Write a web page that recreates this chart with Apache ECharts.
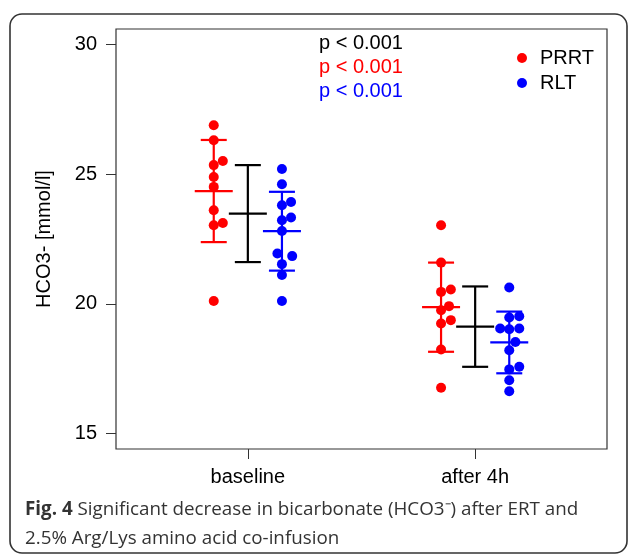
<!DOCTYPE html>
<html>
<head>
<meta charset="utf-8">
<script src="https://cdn.jsdelivr.net/npm/echarts@6/dist/echarts.min.js"></script>
<style>
html,body{margin:0;padding:0;background:#fff;}
#chart{width:629px;height:554px;}
</style>
</head>
<body>
<div id="chart"></div>
<script>
// ---- data ----
var categories = ['baseline', 'after 4h'];
var yTicks = [15, 20, 25, 30];
var seriesNames = ['PRRT', 'RLT'];

// individual values (mmol/l) and horizontal jitter per point
var prrtBaseline = [26.89, 26.31, 25.51, 25.35, 24.89, 24.51, 23.61, 23.03, 23.12, 20.11];
var prrtBaselineJitter = [0, 0, 0.04, 0, 0, 0, 0, 0, 0.04, 0];
var prrtAfter = [23.03, 21.59, 20.46, 20.55, 19.91, 19.75, 19.37, 19.24, 18.24, 16.76];
var prrtAfterJitter = [0, 0, 0, 0.043, 0.035, 0, 0.043, 0, 0, 0];

var rltBaseline = [25.20, 24.61, 23.93, 23.80, 23.33, 23.22, 22.81, 21.94, 21.84, 21.53, 21.11, 20.11];
var rltBaselineJitter = [0, 0, 0.04, 0, 0.04, 0, 0, -0.02, 0.045, 0, 0, 0];
var rltAfter = [20.63, 19.47, 19.52, 19.05, 19.02, 19.05, 18.53, 18.21, 17.57, 17.47, 17.05, 16.63];
var rltAfterJitter = [0, 0, 0.044, -0.04, 0, 0.044, 0.027, 0, 0.044, 0, 0, 0];

// summary bars (mean +/- SD) per time point
var prrtMean = [24.35, 19.87];
var prrtSd = [1.97, 1.72];
var allMean = [23.48, 19.12];
var allSd = [1.87, 1.55];
var rltMean = [22.80, 18.51];
var rltSd = [1.52, 1.19];

var pLabels = ['p < 0.001', 'p < 0.001', 'p < 0.001'];
var captionBold = 'Fig. 4';
var captionLine1 = ' Significant decrease in bicarbonate (HCO3\u207B) after ERT and';
var captionLine2 = '2.5% Arg/Lys amino acid co-infusion';

// ---- build ----
var groupOffset = { PRRT: -0.15, ALL: 0, RLT: 0.15 };
function pts(vals, jit, catIdx, off) {
  return vals.map(function (v, i) { return [catIdx + 1 + off + jit[i], v]; });
}
var prrtPoints = pts(prrtBaseline, prrtBaselineJitter, 0, groupOffset.PRRT)
  .concat(pts(prrtAfter, prrtAfterJitter, 1, groupOffset.PRRT));
var rltPoints = pts(rltBaseline, rltBaselineJitter, 0, groupOffset.RLT)
  .concat(pts(rltAfter, rltAfterJitter, 1, groupOffset.RLT));

function barData(mean, sd, off) {
  return mean.map(function (m, i) { return [i + 1 + off, m, m - sd[i], m + sd[i]]; });
}

function errRender(color) {
  return function (params, api) {
    var x = api.value(0);
    var c = api.coord([x, api.value(1)]);
    var lo = api.coord([x, api.value(2)]);
    var hi = api.coord([x, api.value(3)]);
    var st = { stroke: color, lineWidth: 2.2, fill: null };
    var cap = 13, mid = 19;
    return {
      type: 'group',
      children: [
        { type: 'line', shape: { x1: c[0], y1: hi[1], x2: c[0], y2: lo[1] }, style: st },
        { type: 'line', shape: { x1: c[0] - cap, y1: hi[1], x2: c[0] + cap, y2: hi[1] }, style: st },
        { type: 'line', shape: { x1: c[0] - cap, y1: lo[1], x2: c[0] + cap, y2: lo[1] }, style: st },
        { type: 'line', shape: { x1: c[0] - mid, y1: c[1], x2: c[0] + mid, y2: c[1] }, style: st }
      ]
    };
  };
}

var FONT = '"Liberation Sans", Arial, sans-serif';
var chart = echarts.init(document.getElementById('chart'), null, { renderer: 'canvas' });
chart.setOption({
  animation: false,
  backgroundColor: '#fff',
  grid: {
    left: 116, top: 29, width: 491, height: 420,
    show: true, borderColor: '#333', borderWidth: 1.2, backgroundColor: 'transparent'
  },
  legend: {
    data: seriesNames,
    orient: 'vertical',
    left: 512, top: 43,
    itemWidth: 26, itemHeight: 10, itemGap: 5,
    icon: 'circle',
    textStyle: { fontFamily: FONT, fontSize: 20, color: '#000' }
  },
  xAxis: {
    type: 'value', min: 0.42, max: 2.58,
    axisLine: { show: false },
    splitLine: { show: false },
    axisTick: { show: true, length: 10, customValues: [1, 2], lineStyle: { color: '#333' } },
    axisLabel: {
      customValues: [1, 2], margin: 18,
      fontFamily: FONT, fontSize: 20, color: '#000',
      formatter: function (v) { return categories[Math.round(v) - 1]; }
    }
  },
  yAxis: {
    type: 'value', min: 14.4, max: 30.6,
    name: 'HCO3- [mmol/l]', nameLocation: 'middle', nameGap: 62,
    nameTextStyle: { fontFamily: FONT, fontSize: 20, color: '#000' },
    axisLine: { show: false },
    splitLine: { show: false },
    axisTick: { show: true, length: 10, customValues: yTicks, lineStyle: { color: '#333' } },
    axisLabel: { customValues: yTicks, margin: 19, fontFamily: FONT, fontSize: 20, color: '#000' }
  },
  series: [
    { name: 'PRRT', type: 'scatter', data: prrtPoints, symbolSize: 10, itemStyle: { color: '#ff0000', opacity: 1 }, z: 3 },
    { name: 'RLT', type: 'scatter', data: rltPoints, symbolSize: 10, itemStyle: { color: '#0000ff', opacity: 1 }, z: 3 },
    { name: 'PRRT sd', type: 'custom', data: barData(prrtMean, prrtSd, groupOffset.PRRT), renderItem: errRender('#ff0000'), encode: { x: 0, y: [1, 2, 3] }, z: 2 },
    { name: 'All sd', type: 'custom', data: barData(allMean, allSd, groupOffset.ALL), renderItem: errRender('#000000'), encode: { x: 0, y: [1, 2, 3] }, z: 2 },
    { name: 'RLT sd', type: 'custom', data: barData(rltMean, rltSd, groupOffset.RLT), renderItem: errRender('#0000ff'), encode: { x: 0, y: [1, 2, 3] }, z: 2 }
  ],
  graphic: [
    { type: 'rect', shape: { x: 10, y: 14, width: 617, height: 539, r: 12 }, style: { fill: null, stroke: '#333', lineWidth: 1.6 }, silent: true, z: 0 },
    { type: 'text', left: 319, top: 33, style: { text: pLabels[0], fill: '#000', font: '20px ' + FONT } },
    { type: 'text', left: 319, top: 57, style: { text: pLabels[1], fill: '#ff0000', font: '20px ' + FONT } },
    { type: 'text', left: 319, top: 81, style: { text: pLabels[2], fill: '#0000ff', font: '20px ' + FONT } },
    {
      type: 'text', left: 25, top: 500,
      style: {
        text: '{b|' + captionBold + '}{n|' + captionLine1 + '}\n{n|' + captionLine2 + '}',
        rich: {
          b: { fontFamily: '"Open Sans", sans-serif', fontWeight: 'bold', fontSize: 18.8, fill: '#333', lineHeight: 29 },
          n: { fontFamily: '"Open Sans", sans-serif', fontSize: 18.8, fill: '#333', lineHeight: 29 }
        }
      }
    }
  ]
});
</script>
</body>
</html>
